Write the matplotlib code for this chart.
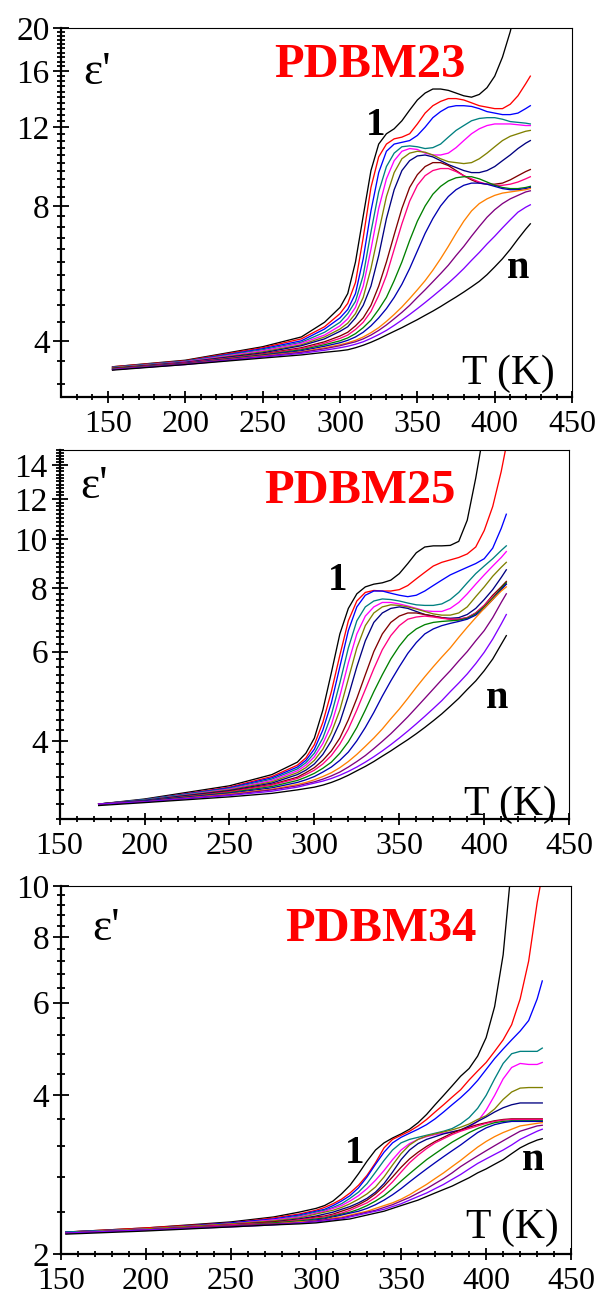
import matplotlib
matplotlib.use("Agg")
from matplotlib import pyplot as plt
from matplotlib.ticker import FixedLocator, NullFormatter
import numpy as np

plt.rcParams["font.family"] = ["Liberation Serif", "DejaVu Serif"]

# colour of curve 1 ... n (same order in every panel)
CURVE_COLORS = ["#000000", "#ff0000", "#0000ff", "#008080", "#ff00ff", "#808000",
                "#000080", "#800000", "#ff0080", "#008000", "#0000b0", "#ff8000",
                "#800080", "#8000ff", "#000000"]

# ---------------- PDBM23 ----------------
T_23 = [153, 200, 250, 275, 290, 300, 305, 310, 315, 320, 325, 330, 335, 340, 345,
        350, 355, 360, 365, 370, 375, 380, 385, 390, 395, 400, 405, 410, 415, 420, 423]
EPS_23 = [
    [3.5, 3.62, 3.88, 4.08, 4.4, 4.75, 5.1, 6.0, 7.6, 9.6, 11.0, 11.6, 11.9, 12.4, 13.1,
     13.8, 14.3, 14.6, 14.6, 14.5, 14.3, 14.1, 14.0, 14.2, 14.7, 15.6, 17.2, 19.6, 23, 27, 30],
    [3.5, 3.61, 3.86, 4.04, 4.3, 4.6, 4.85, 5.4, 6.8, 8.8, 10.3, 11.0, 11.3, 11.4, 11.6,
     12.2, 12.9, 13.4, 13.7, 13.9, 13.9, 13.8, 13.6, 13.4, 13.3, 13.2, 13.2, 13.5, 14.1, 15.0, 15.6],
    [3.49, 3.6, 3.84, 4.0, 4.25, 4.5, 4.7, 5.1, 6.1, 7.8, 9.5, 10.6, 11.0, 11.1, 11.2,
     11.5, 12.0, 12.6, 13.0, 13.3, 13.4, 13.4, 13.35, 13.2, 13.0, 12.9, 12.8, 12.8, 12.9, 13.2, 13.4],
    [3.49, 3.6, 3.82, 3.97, 4.18, 4.4, 4.6, 4.9, 5.6, 7.0, 8.6, 9.8, 10.5, 10.85, 10.9,
     10.85, 10.75, 10.8, 11.0, 11.4, 11.8, 12.1, 12.4, 12.55, 12.6, 12.6, 12.5, 12.35, 12.3, 12.25, 12.2],
    [3.48, 3.59, 3.8, 3.95, 4.12, 4.32, 4.48, 4.75, 5.3, 6.4, 7.9, 9.2, 10.1, 10.6, 10.75,
     10.7, 10.5, 10.4, 10.4, 10.5, 10.8, 11.2, 11.6, 11.9, 12.1, 12.2, 12.2, 12.2, 12.15, 12.1, 12.1],
    [3.48, 3.58, 3.78, 3.92, 4.08, 4.25, 4.38, 4.6, 5.0, 5.8, 7.0, 8.4, 9.5, 10.2, 10.5,
     10.6, 10.55, 10.4, 10.2, 10.05, 10.0, 9.95, 10.0, 10.2, 10.5, 10.85, 11.2, 11.45, 11.6, 11.75, 11.8],
    [3.47, 3.58, 3.76, 3.9, 4.04, 4.2, 4.3, 4.5, 4.8, 5.3, 6.2, 7.5, 8.7, 9.6, 10.1,
     10.35, 10.4, 10.3, 10.1, 9.9, 9.75, 9.6, 9.5, 9.5, 9.6, 9.8, 10.1, 10.4, 10.75, 11.05, 11.2],
    [3.47, 3.57, 3.74, 3.86, 3.98, 4.1, 4.18, 4.32, 4.5, 4.8, 5.3, 6.0, 6.9, 7.9, 8.8,
     9.4, 9.8, 10.0, 10.0, 9.85, 9.6, 9.35, 9.15, 9.0, 8.95, 8.95, 9.0, 9.15, 9.35, 9.55, 9.65],
    [3.46, 3.57, 3.73, 3.84, 3.95, 4.05, 4.12, 4.24, 4.4, 4.65, 5.05, 5.6, 6.4, 7.3, 8.2,
     8.9, 9.35, 9.6, 9.7, 9.7, 9.55, 9.35, 9.2, 9.05, 8.95, 8.9, 8.9, 8.95, 9.05, 9.2, 9.3],
    [3.46, 3.56, 3.72, 3.82, 3.92, 4.0, 4.06, 4.15, 4.28, 4.45, 4.7, 5.0, 5.45, 6.0, 6.7,
     7.4, 8.0, 8.5, 8.85, 9.1, 9.25, 9.3, 9.3, 9.2, 9.05, 8.9, 8.8, 8.75, 8.75, 8.8, 8.85],
    [3.45, 3.56, 3.71, 3.8, 3.89, 3.96, 4.01, 4.08, 4.18, 4.32, 4.5, 4.72, 5.0, 5.35, 5.8,
     6.35, 6.95, 7.5, 8.0, 8.4, 8.7, 8.9, 9.0, 9.0, 8.95, 8.85, 8.75, 8.7, 8.7, 8.75, 8.8],
    [3.45, 3.55, 3.7, 3.78, 3.86, 3.92, 3.96, 4.01, 4.08, 4.17, 4.28, 4.42, 4.58, 4.76, 4.97,
     5.2, 5.45, 5.75, 6.1, 6.5, 6.95, 7.4, 7.8, 8.1, 8.3, 8.45, 8.55, 8.6, 8.65, 8.7, 8.75],
    [3.45, 3.55, 3.69, 3.77, 3.84, 3.9, 3.94, 3.98, 4.04, 4.12, 4.22, 4.34, 4.48, 4.63, 4.8,
     5.0, 5.2, 5.42, 5.65, 5.9, 6.2, 6.5, 6.85, 7.2, 7.55, 7.85, 8.1, 8.3, 8.45, 8.6, 8.65],
    [3.45, 3.54, 3.68, 3.75, 3.81, 3.86, 3.89, 3.93, 3.98, 4.05, 4.13, 4.22, 4.33, 4.45, 4.58,
     4.72, 4.87, 5.03, 5.2, 5.38, 5.58, 5.8, 6.05, 6.3, 6.58, 6.85, 7.15, 7.45, 7.75, 7.95, 8.05],
    [3.44, 3.54, 3.66, 3.72, 3.77, 3.8, 3.82, 3.86, 3.91, 3.97, 4.04, 4.12, 4.2, 4.28, 4.37,
     4.46, 4.56, 4.66, 4.77, 4.89, 5.01, 5.14, 5.28, 5.43, 5.62, 5.85, 6.1, 6.4, 6.75, 7.1, 7.3],
]

# ---------------- PDBM25 ----------------
T_25 = [173, 200, 250, 275, 290, 295, 300, 305, 310, 315, 320, 325, 330, 335, 340,
        345, 350, 355, 360, 365, 370, 375, 380, 385, 390, 395, 400, 405, 410, 413]
EPS_25 = [
    [3.0, 3.07, 3.26, 3.43, 3.63, 3.78, 4.05, 4.6, 5.45, 6.5, 7.3, 7.8, 8.05, 8.15, 8.2,
     8.3, 8.55, 8.95, 9.4, 9.65, 9.7, 9.7, 9.72, 9.9, 10.9, 13.2, 16.5, 20, 24, 27],
    [3.0, 3.06, 3.24, 3.4, 3.58, 3.7, 3.93, 4.35, 5.0, 5.9, 6.9, 7.55, 7.85, 7.92, 7.9,
     7.9, 7.95, 8.1, 8.35, 8.6, 8.85, 9.0, 9.1, 9.2, 9.35, 9.65, 10.4, 11.6, 13.6, 15.3],
    [3.0, 3.06, 3.23, 3.38, 3.55, 3.66, 3.85, 4.2, 4.75, 5.6, 6.6, 7.35, 7.75, 7.9, 7.9,
     7.82, 7.75, 7.7, 7.75, 7.9, 8.1, 8.3, 8.5, 8.65, 8.8, 8.95, 9.15, 9.6, 10.5, 11.2],
    [3.0, 3.06, 3.22, 3.36, 3.52, 3.62, 3.78, 4.05, 4.5, 5.2, 6.1, 6.9, 7.35, 7.55, 7.62,
     7.6, 7.55, 7.48, 7.42, 7.4, 7.4, 7.45, 7.6, 7.85, 8.2, 8.55, 8.85, 9.15, 9.5, 9.7],
    [3.0, 3.05, 3.21, 3.34, 3.49, 3.58, 3.72, 3.95, 4.3, 4.9, 5.7, 6.5, 7.05, 7.35, 7.5,
     7.5, 7.45, 7.38, 7.3, 7.22, 7.2, 7.2, 7.3, 7.5, 7.8, 8.15, 8.5, 8.85, 9.2, 9.45],
    [3.0, 3.05, 3.2, 3.32, 3.46, 3.54, 3.66, 3.85, 4.15, 4.6, 5.3, 6.1, 6.75, 7.15, 7.35,
     7.42, 7.4, 7.35, 7.28, 7.2, 7.12, 7.08, 7.08, 7.15, 7.35, 7.7, 8.05, 8.45, 8.8, 9.0],
    [3.0, 3.05, 3.19, 3.3, 3.43, 3.5, 3.6, 3.76, 4.0, 4.35, 4.9, 5.6, 6.3, 6.85, 7.15,
     7.3, 7.35, 7.3, 7.2, 7.1, 7.05, 7.0, 6.98, 7.0, 7.1, 7.3, 7.6, 7.95, 8.4, 8.7],
    [3.0, 3.04, 3.18, 3.28, 3.39, 3.46, 3.54, 3.66, 3.82, 4.05, 4.4, 4.85, 5.4, 6.0, 6.5,
     6.85, 7.05, 7.15, 7.15, 7.1, 7.05, 7.0, 6.95, 6.95, 7.0, 7.15, 7.4, 7.75, 8.05, 8.25],
    [3.0, 3.04, 3.17, 3.27, 3.37, 3.43, 3.5, 3.6, 3.74, 3.94, 4.22, 4.6, 5.05, 5.55, 6.05,
     6.45, 6.75, 6.95, 7.02, 7.05, 7.02, 6.98, 6.95, 6.95, 7.0, 7.15, 7.4, 7.7, 8.0, 8.15],
    [3.0, 3.04, 3.16, 3.25, 3.34, 3.39, 3.45, 3.53, 3.63, 3.78, 3.98, 4.25, 4.6, 5.0, 5.4,
     5.8, 6.15, 6.45, 6.65, 6.78, 6.85, 6.88, 6.9, 6.92, 6.98, 7.12, 7.35, 7.65, 8.0, 8.2],
    [3.0, 3.04, 3.15, 3.23, 3.31, 3.35, 3.4, 3.47, 3.55, 3.66, 3.8, 4.0, 4.25, 4.55, 4.9,
     5.25, 5.6, 5.95, 6.25, 6.5, 6.65, 6.75, 6.82, 6.88, 6.95, 7.08, 7.3, 7.6, 7.95, 8.15],
    [3.0, 3.03, 3.14, 3.21, 3.28, 3.31, 3.35, 3.4, 3.46, 3.54, 3.64, 3.76, 3.9, 4.05, 4.22,
     4.42, 4.62, 4.85, 5.1, 5.35, 5.6, 5.85, 6.1, 6.4, 6.7, 7.0, 7.3, 7.6, 7.9, 8.05],
    [3.0, 3.03, 3.13, 3.2, 3.26, 3.29, 3.32, 3.36, 3.41, 3.47, 3.55, 3.64, 3.74, 3.86, 3.99,
     4.13, 4.29, 4.46, 4.65, 4.85, 5.06, 5.28, 5.5, 5.75, 6.0, 6.3, 6.6, 7.0, 7.5, 7.8],
    [3.0, 3.03, 3.12, 3.18, 3.24, 3.27, 3.3, 3.33, 3.37, 3.42, 3.48, 3.55, 3.63, 3.72, 3.82,
     3.93, 4.05, 4.18, 4.32, 4.47, 4.63, 4.8, 5.0, 5.2, 5.42, 5.68, 5.98, 6.35, 6.8, 7.1],
    [2.98, 3.02, 3.1, 3.15, 3.2, 3.22, 3.24, 3.27, 3.31, 3.36, 3.42, 3.49, 3.56, 3.64, 3.73,
     3.82, 3.92, 4.02, 4.13, 4.25, 4.38, 4.52, 4.68, 4.85, 5.05, 5.25, 5.5, 5.8, 6.2, 6.45],
]

# ---------------- PDBM34 ----------------
T_34 = [153, 200, 250, 275, 290, 300, 305, 310, 315, 320, 325, 330, 335, 340, 345, 350, 355,
        360, 365, 370, 375, 380, 385, 390, 395, 400, 405, 410, 415, 420, 425, 430, 433]
EPS_34 = [
    [2.2, 2.24, 2.3, 2.35, 2.4, 2.44, 2.47, 2.52, 2.6, 2.7, 2.84, 3.0, 3.15, 3.25, 3.32, 3.38, 3.45,
     3.55, 3.68, 3.84, 4.0, 4.17, 4.35, 4.5, 4.75, 5.15, 5.9, 7.4, 11, 14, 17, 20, 22],
    [2.2, 2.24, 2.29, 2.34, 2.38, 2.42, 2.45, 2.49, 2.54, 2.61, 2.7, 2.82, 2.98, 3.18, 3.3, 3.36, 3.42,
     3.5, 3.6, 3.72, 3.84, 3.97, 4.1, 4.28, 4.45, 4.62, 4.85, 5.1, 5.45, 6.1, 7.2, 9.3, 10.5],
    [2.2, 2.23, 2.29, 2.33, 2.37, 2.41, 2.43, 2.47, 2.52, 2.58, 2.67, 2.8, 2.96, 3.12, 3.25, 3.33, 3.39,
     3.45, 3.52, 3.61, 3.72, 3.84, 3.96, 4.1, 4.27, 4.48, 4.7, 4.9, 5.1, 5.3, 5.55, 6.1, 6.6],
    [2.2, 2.23, 2.28, 2.32, 2.36, 2.4, 2.42, 2.45, 2.49, 2.55, 2.62, 2.72, 2.86, 3.01, 3.15, 3.25, 3.3,
     3.33, 3.36, 3.39, 3.42, 3.46, 3.53, 3.63, 3.78, 4.0, 4.3, 4.6, 4.8, 4.85, 4.85, 4.85, 4.92],
    [2.19, 2.23, 2.28, 2.32, 2.35, 2.39, 2.41, 2.44, 2.47, 2.52, 2.58, 2.66, 2.76, 2.88, 3.02, 3.15, 3.24,
     3.3, 3.34, 3.37, 3.39, 3.41, 3.43, 3.48, 3.57, 3.75, 4.0, 4.3, 4.52, 4.6, 4.58, 4.58, 4.62],
    [2.19, 2.23, 2.28, 2.31, 2.34, 2.38, 2.4, 2.42, 2.45, 2.49, 2.54, 2.6, 2.68, 2.8, 2.95, 3.1, 3.22,
     3.3, 3.35, 3.38, 3.41, 3.44, 3.48, 3.53, 3.6, 3.66, 3.77, 3.93, 4.06, 4.13, 4.14, 4.14, 4.14],
    [2.19, 2.22, 2.27, 2.3, 2.33, 2.36, 2.38, 2.4, 2.43, 2.46, 2.5, 2.55, 2.62, 2.72, 2.86, 3.02, 3.15,
     3.24, 3.3, 3.34, 3.38, 3.41, 3.44, 3.5, 3.57, 3.64, 3.72, 3.79, 3.84, 3.87, 3.87, 3.87, 3.87],
    [2.19, 2.22, 2.27, 2.3, 2.32, 2.35, 2.36, 2.38, 2.41, 2.44, 2.48, 2.53, 2.6, 2.69, 2.8, 2.92, 3.03,
     3.12, 3.2, 3.27, 3.33, 3.39, 3.44, 3.48, 3.52, 3.55, 3.58, 3.6, 3.61, 3.61, 3.61, 3.61, 3.61],
    [2.19, 2.22, 2.27, 2.29, 2.32, 2.34, 2.35, 2.37, 2.39, 2.42, 2.46, 2.5, 2.56, 2.64, 2.74, 2.86, 2.98,
     3.08, 3.17, 3.25, 3.31, 3.37, 3.42, 3.46, 3.5, 3.54, 3.57, 3.59, 3.6, 3.6, 3.6, 3.6, 3.6],
    [2.19, 2.22, 2.26, 2.29, 2.31, 2.33, 2.34, 2.36, 2.38, 2.4, 2.43, 2.47, 2.52, 2.58, 2.66, 2.75, 2.84,
     2.93, 3.02, 3.1, 3.18, 3.26, 3.33, 3.4, 3.46, 3.51, 3.55, 3.57, 3.58, 3.58, 3.58, 3.58, 3.58],
    [2.19, 2.22, 2.26, 2.28, 2.3, 2.32, 2.33, 2.35, 2.37, 2.39, 2.41, 2.44, 2.48, 2.53, 2.59, 2.66, 2.74,
     2.82, 2.9, 2.98, 3.06, 3.14, 3.22, 3.31, 3.4, 3.47, 3.52, 3.55, 3.57, 3.57, 3.57, 3.57, 3.57],
    [2.19, 2.22, 2.26, 2.28, 2.3, 2.31, 2.32, 2.34, 2.35, 2.37, 2.39, 2.41, 2.44, 2.47, 2.5, 2.54, 2.59,
     2.65, 2.71, 2.78, 2.85, 2.93, 3.01, 3.1, 3.19, 3.27, 3.34, 3.4, 3.45, 3.5, 3.52, 3.54, 3.55],
    [2.19, 2.22, 2.26, 2.28, 2.29, 2.31, 2.32, 2.33, 2.34, 2.36, 2.38, 2.4, 2.42, 2.45, 2.48, 2.52, 2.56,
     2.61, 2.66, 2.72, 2.78, 2.85, 2.93, 3.0, 3.07, 3.14, 3.21, 3.28, 3.35, 3.42, 3.46, 3.5, 3.51],
    [2.19, 2.22, 2.25, 2.27, 2.29, 2.3, 2.31, 2.32, 2.33, 2.35, 2.37, 2.39, 2.41, 2.43, 2.46, 2.49, 2.53,
     2.57, 2.61, 2.66, 2.71, 2.77, 2.83, 2.9, 2.97, 3.03, 3.09, 3.15, 3.22, 3.3, 3.36, 3.42, 3.45],
    [2.18, 2.21, 2.25, 2.27, 2.28, 2.29, 2.3, 2.31, 2.32, 2.33, 2.35, 2.37, 2.39, 2.41, 2.44, 2.47, 2.5,
     2.53, 2.57, 2.61, 2.65, 2.69, 2.74, 2.79, 2.85, 2.9, 2.96, 3.02, 3.1, 3.18, 3.24, 3.29, 3.31],
]

SAMPLES = ["PDBM23", "PDBM25", "PDBM34"]


def style_axis(ax, xlim, ylim, yticks, yminor_step):
    ax.set_yscale("log")
    ax.set_xlim(*xlim)
    ax.set_ylim(*ylim)

    ax.set_xticks([150, 200, 250, 300, 350, 400, 450])
    ax.xaxis.set_minor_locator(FixedLocator(np.arange(130, 451, 10)))
    ax.set_yticks(yticks)
    ax.set_yticklabels([str(v) for v in yticks])
    lo = yticks[0] - yminor_step * int((yticks[0] - ylim[0]) / yminor_step + 1e-6)
    ax.yaxis.set_minor_locator(FixedLocator(np.arange(lo, ylim[1] + 1e-6, yminor_step)))
    ax.yaxis.set_minor_formatter(NullFormatter())

    ax.tick_params(axis="both", which="both", direction="inout", width=1.3,
                   top=False, right=False)
    ax.tick_params(axis="y", which="major", length=11, pad=3, labelsize=24)
    ax.tick_params(axis="y", which="minor", length=5.5)
    ax.tick_params(axis="x", which="major", length=9, pad=5, labelsize=23)
    ax.tick_params(axis="x", which="minor", length=5)

    ax.spines["left"].set_linewidth(1.6)
    ax.spines["bottom"].set_linewidth(1.6)
    ax.spines["top"].set_linewidth(0.8)
    ax.spines["right"].set_linewidth(0.8)


def draw_panel(ax, temps, eps, sample, pos):
    for row, col in zip(eps, CURVE_COLORS):
        ax.plot(temps, row, color=col, lw=0.95)
    ax.text(pos["eps"][0], pos["eps"][1], "ε'", transform=ax.transAxes,
            fontsize=33, ha="left", va="baseline")
    ax.text(pos["name"][0], pos["name"][1], sample, transform=ax.transAxes,
            fontsize=35, fontweight="bold", color="#ff0000", ha="center", va="baseline")
    ax.text(pos["one"][0], pos["one"][1], "1", transform=ax.transAxes,
            fontsize=28, fontweight="bold", ha="center", va="baseline")
    ax.text(pos["n"][0], pos["n"][1], "n", transform=ax.transAxes,
            fontsize=29, fontweight="bold", ha="center", va="baseline")
    ax.text(pos["T"][0], pos["T"][1], "T (K)", transform=ax.transAxes,
            fontsize=30, ha="center", va="baseline")


fig = plt.figure(figsize=(6, 13), dpi=100)

ax1 = fig.add_axes([0.1025, 0.6948, 0.851, 0.2838])
draw_panel(ax1, T_23, EPS_23, SAMPLES[0],
           {"eps": (0.042, 0.849), "name": (0.603, 0.866), "one": (0.616, 0.709),
            "n": (0.894, 0.322), "T": (0.876, 0.036)})
style_axis(ax1, (120, 450), (3, 20), [4, 8, 12, 16, 20], 0.4)

ax2 = fig.add_axes([0.0993, 0.3698, 0.8493, 0.2841])
draw_panel(ax2, T_25, EPS_25, SAMPLES[1],
           {"eps": (0.040, 0.869), "name": (0.589, 0.856), "one": (0.546, 0.621),
            "n": (0.859, 0.30), "T": (0.885, 0.012)})
style_axis(ax2, (150, 450), (2.8, 15), [4, 6, 8, 10, 12, 14], 0.2)

ax3 = fig.add_axes([0.1013, 0.0355, 0.8507, 0.2830])
draw_panel(ax3, T_34, EPS_34, SAMPLES[2],
           {"eps": (0.062, 0.853), "name": (0.627, 0.851), "one": (0.575, 0.246),
            "n": (0.926, 0.228), "T": (0.884, 0.042)})
style_axis(ax3, (150, 450), (2, 10), [2, 4, 6, 8, 10], 0.4)

fig.savefig("out.png", dpi=100)
